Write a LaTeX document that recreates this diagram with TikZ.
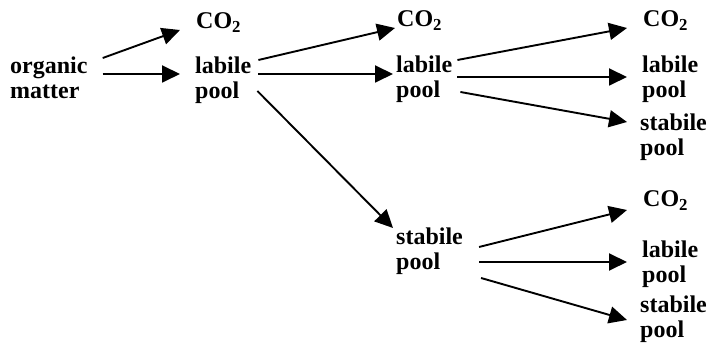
\documentclass[tikz,border=0pt]{standalone}
\usepackage{fontspec}
\setmainfont{Liberation Serif}
\usetikzlibrary{arrows.meta}
\begin{document}
\begin{tikzpicture}[x=1pt,y=-1pt,
  lbl/.style={anchor=base west,inner sep=0pt,align=left,
    font=\bfseries\fontsize{24}{25}\selectfont},
  arr/.style={line width=1.9pt,-{Triangle[length=18pt,width=17pt]}}]
\useasboundingbox (0,0) rectangle (710,352);
% pools and products (multi-line nodes are placed by their last baseline)
\node[lbl] (om)   at (10,99)  {organic\\matter};
\node[lbl] (co2a) at (196,29) {CO\textsubscript{2}};
\node[lbl] (lab1) at (195,99) {labile\\pool};
\node[lbl] (co2b) at (397,27) {CO\textsubscript{2}};
\node[lbl] (lab2) at (396,98) {labile\\pool};
\node[lbl] (sta2) at (396,270) {stabile\\pool};
\node[lbl] (co2c) at (643,27) {CO\textsubscript{2}};
\node[lbl] (lab3) at (642,98) {labile\\pool};
\node[lbl] (sta3) at (640,156) {stabile\\pool};
\node[lbl] (co2d) at (643,207) {CO\textsubscript{2}};
\node[lbl] (lab4) at (642,283) {labile\\pool};
\node[lbl] (sta4) at (640,338) {stabile\\pool};
% decomposition flows
\draw[arr] ([shift={(15,-41)}]om.base east) -- ([shift={(-16,1)}]co2a.base west);
\draw[arr] ([shift={(15,-25)}]om.base east) -- ([shift={(-15,-25)}]lab1.base west);
\draw[arr] ([shift={(7,-39)}]lab1.base east) -- ([shift={(-2,1)}]co2b.base west);
\draw[arr] ([shift={(7,-25)}]lab1.base east) -- ([shift={(-3,-24)}]lab2.base west);
\draw[arr] ([shift={(6,-8)}]lab1.base east) -- ([shift={(-3,-42)}]sta2.base west);
\draw[arr] ([shift={(5,-38)}]lab2.base east) -- ([shift={(-16,1)}]co2c.base west);
\draw[arr] ([shift={(5,-21)}]lab2.base east) -- ([shift={(-15,-21)}]lab3.base west);
\draw[arr] ([shift={(8,-6)}]lab2.base east) -- ([shift={(-13,-34)}]sta3.base west);
\draw[arr] ([shift={(16,-23)}]sta2.base east) -- ([shift={(-16,3)}]co2d.base west);
\draw[arr] ([shift={(16,-8)}]sta2.base east) -- ([shift={(-15,-21)}]lab4.base west);
\draw[arr] ([shift={(18,8)}]sta2.base east) -- ([shift={(-13,-18)}]sta4.base west);
\end{tikzpicture}
\end{document}
